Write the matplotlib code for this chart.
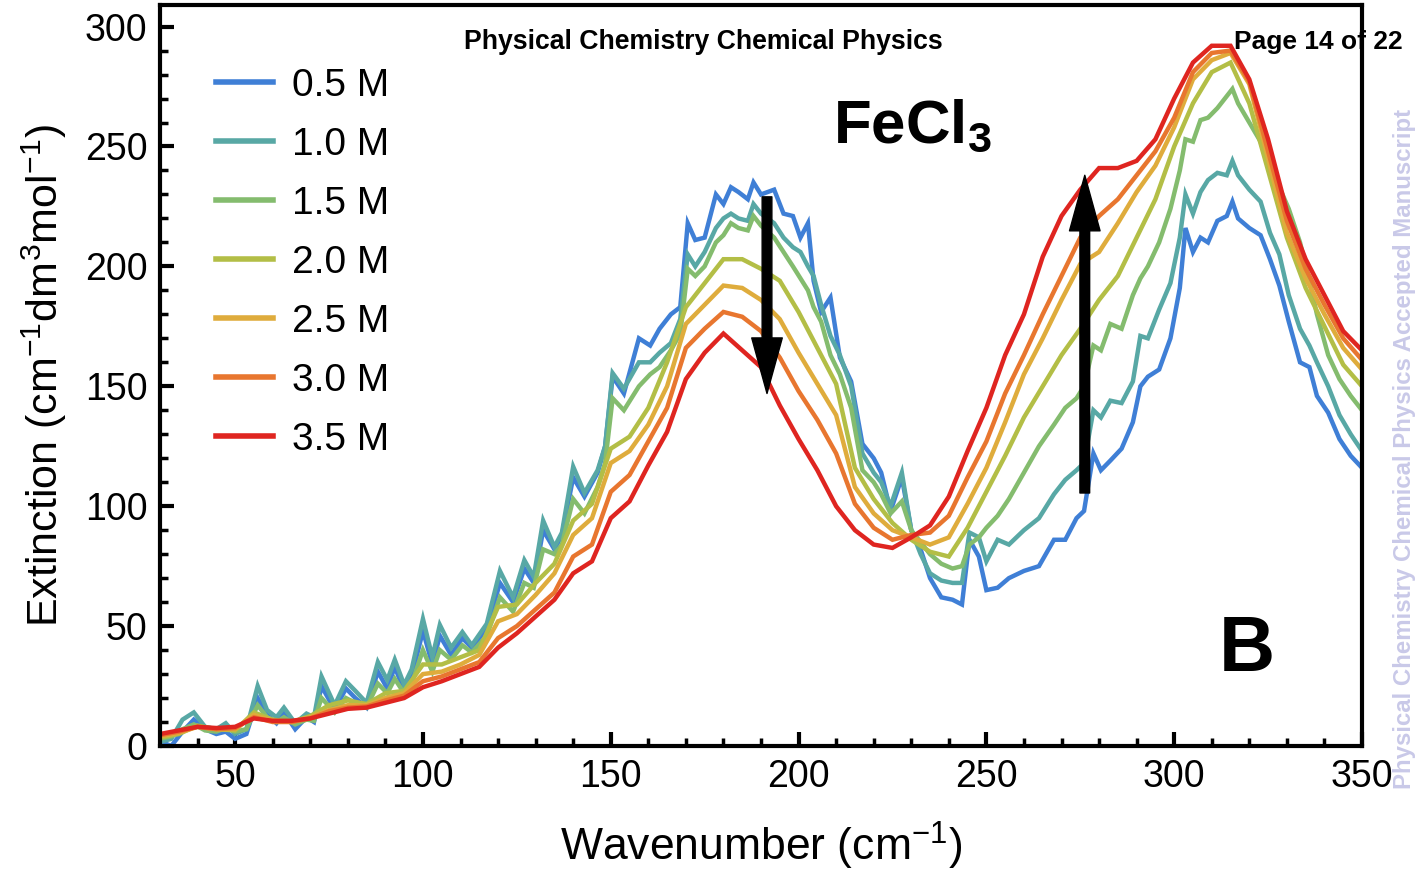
import numpy as np
import matplotlib
matplotlib.use("Agg")
import matplotlib.pyplot as plt
from matplotlib.ticker import MultipleLocator

plt.rcParams['font.family'] = ['Liberation Sans', 'DejaVu Sans']
plt.rcParams['mathtext.fontset'] = 'custom'
plt.rcParams['mathtext.rm'] = 'Liberation Sans'
plt.rcParams['mathtext.it'] = 'Liberation Sans'
plt.rcParams['mathtext.bf'] = 'Liberation Sans:bold'

# wavenumber grid for the noisy low-concentration spectra
x_fine = [30, 33, 36, 39, 42, 45, 47.5, 50, 53, 56,
          58.5, 61, 63, 66, 69, 71, 73, 76.5, 79.5, 82,
          85, 88, 90.5, 92.5, 95, 97, 100, 102.5, 104.5, 107.5,
          110.5, 113, 117, 120.5, 124, 127, 129.5, 132, 135, 137,
          140, 143, 146.5, 148.5, 150.5, 153.5, 157.5, 160.5, 163, 166,
          168.5, 170.5, 172.5, 175, 178, 180, 182, 184, 186.5, 188,
          190, 193.5, 196, 198.5, 200.5, 202.5, 204, 206, 208.5, 211,
          214, 217, 220, 222, 224.5, 227.5, 230, 232.5, 235, 238,
          241, 243.5, 245.5, 248, 250, 253, 256, 260, 264, 268,
          271, 274, 276, 278.5, 280.5, 283, 286, 289, 291, 293,
          296, 299, 301.5, 303, 305, 307, 309, 311.5, 314, 315.5,
          317, 320, 323, 325.5, 328, 330.5, 333.5, 336, 338, 341,
          344, 347, 350]

m05 = [2, 0, 6, 11, 7, 5, 6, 3, 5, 20,
       13, 9.5, 14, 7, 12, 10, 25, 15, 24, 20,
       16, 31, 24, 33, 23, 29, 48, 34, 46, 38,
       45, 41, 49, 68, 60, 74, 68, 90, 82, 88,
       112, 104, 114, 125, 154, 147, 170, 167, 174, 180,
       183, 218, 211, 212, 230, 226, 233, 231, 228, 235,
       230, 232, 222, 221, 212, 218, 194, 181, 187, 162,
       152, 126, 120, 114, 98, 112, 90, 82, 70, 62,
       61, 59, 86, 79, 65, 66, 70, 73, 75, 86,
       86, 95, 98, 122, 115, 119, 124, 135, 150, 154,
       157, 170, 191, 216, 206, 212, 210, 219, 221, 227,
       220, 216, 213, 203, 192, 177, 160, 158, 146, 139,
       128, 121, 116]

m10 = [1.7, 3, 11, 14, 8, 7, 9.5, 5, 7, 25,
       15, 12, 16, 9.5, 13.5, 12, 29, 17, 27, 23,
       18, 35, 27.5, 36, 25.5, 32, 53, 37, 50.5, 41,
       47.5, 42, 51, 73, 62, 77.5, 70.5, 94, 83, 89,
       116.5, 105.5, 115, 125, 155.5, 149, 160, 160, 164, 168,
       178, 205, 200, 206, 216, 220, 222, 220, 219, 226,
       222, 218, 212, 208, 206, 200, 196, 184, 171, 163,
       150, 122, 114, 110, 100, 114, 90, 80, 72, 69,
       68, 68, 89, 87, 77, 86, 84, 90, 95, 105,
       111, 115, 118, 140, 137, 144, 143, 152, 171, 170,
       182, 193, 212, 230, 222, 231, 236, 239, 238, 244,
       238, 232, 227, 214, 205, 188, 174, 167, 160, 150,
       138, 130, 123]

m15 = [3, 4, 7, 9, 6.5, 6, 7.5, 6, 7, 17,
       12, 10, 12, 9, 11, 10.5, 20, 14, 20, 18,
       16, 26, 22, 28, 22, 26, 40, 31, 40, 36,
       42, 39, 46, 62, 56, 68, 66, 82, 80, 84,
       103, 97, 108, 118, 145, 140, 150, 155, 158, 165,
       172, 199, 196, 200, 210, 213, 218, 216, 215, 221,
       217, 212, 206, 200, 195, 190, 183, 177, 163, 155,
       141, 115, 110, 105, 97, 102, 90, 85, 80, 76,
       74, 75, 84, 87, 91, 96, 103, 114, 125, 134,
       141, 145, 150, 167, 165, 176, 174, 188, 195, 200,
       210, 224, 240, 253, 252, 261, 262, 266, 271, 274,
       268, 260, 252, 240, 233, 224, 210, 194, 180, 163,
       153, 146, 140]

# coarser grid for the smoother high-concentration spectra
x_coarse = [30, 35, 40, 45, 50, 55, 60, 65, 70, 75,
            80, 85, 90, 95, 100, 105, 110, 115, 120, 125,
            130, 135, 140, 145, 150, 155, 160, 165, 170, 175,
            180, 185, 190, 195, 200, 205, 210, 215, 220, 225,
            230, 235, 240, 245, 250, 255, 260, 265, 270, 275,
            280, 285, 290, 295, 300, 305, 310, 315, 320, 325,
            330, 335, 340, 345, 350]

m20 = [3.5, 5, 8.5, 7, 6.5, 14, 11, 10, 12.5, 17,
       19, 17.5, 22, 23, 34, 34, 37, 40, 58, 59,
       68, 76, 94, 101, 124, 129, 141, 160, 183, 193,
       203, 203, 199, 194, 181, 166, 151, 116, 103, 93,
       86, 81, 79, 91, 106, 121, 137, 150, 163, 174,
       186, 196, 212, 228, 250, 268, 281, 285, 268, 240,
       212, 191, 175, 159, 150]

m25 = [4, 5.5, 8, 7, 7, 13, 10.5, 10, 12, 15,
       17, 17, 20, 22, 30, 31, 34, 38, 52, 55,
       63, 72, 88, 95, 118, 123, 134, 150, 176, 184,
       192, 191, 186, 178, 164, 151, 138, 108, 97, 90,
       87, 84, 87, 101, 116, 135, 155, 170, 186, 201,
       206, 218, 231, 242, 258, 278, 286, 289, 276, 245,
       214, 195, 180, 166, 157]

m30 = [4.5, 6, 8, 7, 7.5, 12, 10, 10, 11.5, 14.5,
       16, 16.5, 19, 21, 27, 29, 32, 35, 45, 50,
       57, 64, 79, 84, 106, 113, 127, 141, 166, 174,
       181, 179, 173, 162, 148, 136, 122, 101, 91, 86,
       88, 89, 96, 112, 127, 147, 163, 180, 196, 212,
       221, 228, 238, 248, 262, 281, 289, 290, 277, 248,
       219, 199, 184, 170, 161]

m35 = [5, 6.5, 8, 7.5, 8, 11.5, 10.5, 10.5, 11.5, 13.5,
       15.5, 16, 18, 20, 24.5, 27, 30, 33, 41, 47,
       54, 61, 72, 77, 95, 102, 117, 131, 153, 164,
       172, 165, 158, 142, 128, 115, 100, 90, 84, 82.6,
       87, 92, 104, 123, 141, 163, 180, 204, 221, 232,
       241, 241, 244, 253, 270, 285, 292, 292, 278, 253,
       223, 203, 188, 173, 165]

labels = ['0.5 M', '1.0 M', '1.5 M', '2.0 M', '2.5 M', '3.0 M', '3.5 M']
colors = ['#3f7fd6', '#58a8a5', '#84bc6e', '#b3be46', '#dfac3c', '#e8762f', '#df2520']

series = [(x_fine, m05), (x_fine, m10), (x_fine, m15), (x_coarse, m20),
          (x_coarse, m25), (x_coarse, m30), (x_coarse, m35)]

fig = plt.figure(figsize=(14.2, 8.72), dpi=100)
ax = fig.add_axes([160 / 1420, 1 - 746 / 872, 1202 / 1420, 741 / 872])

for (xs, ys), lab, c in zip(series, labels, colors):
    ax.plot(xs, ys, color=c, lw=3.2, label=lab, solid_joinstyle='miter')

ax.set_xlim(30, 350)
ax.set_ylim(0, 309)
ax.xaxis.set_major_locator(MultipleLocator(50))
ax.xaxis.set_minor_locator(MultipleLocator(10))
ax.yaxis.set_major_locator(MultipleLocator(50))
ax.yaxis.set_minor_locator(MultipleLocator(10))
ax.tick_params(which='major', direction='in', length=10, width=3, labelsize=27,
               top=False, right=False, pad=9)
ax.tick_params(which='minor', direction='in', length=6, width=2.5,
               top=False, right=False)
for s in ax.spines.values():
    s.set_linewidth(3)

ax.set_xlabel(r'Wavenumber (cm$^{-1}$)', fontsize=32)
ax.set_ylabel(r'Extinction (cm$^{-1}$dm$^{3}$mol$^{-1}$)', fontsize=31)
ax.xaxis.set_label_coords(0.5, -0.1)
ax.yaxis.set_label_coords(-0.076, 0.5)

leg = ax.legend(loc='upper left', bbox_to_anchor=(0.047, 0.915), frameon=False,
                fontsize=28, handlelength=1.45, handletextpad=0.5,
                labelspacing=0.59, borderpad=0, borderaxespad=0)
for h in leg.get_lines():
    h.set_linewidth(4)

# concentration trend arrows
ax.annotate('', xy=(191.6, 147), xytext=(191.6, 229),
            arrowprops=dict(arrowstyle='simple,head_length=40,head_width=22,tail_width=7',
                            mutation_scale=1, color='black', shrinkA=0, shrinkB=0))
ax.annotate('', xy=(276.2, 238), xytext=(276.2, 105.5),
            arrowprops=dict(arrowstyle='simple,head_length=40,head_width=22,tail_width=7',
                            mutation_scale=1, color='black', shrinkA=0, shrinkB=0))

ax.text(209.2, 251.6, r'$\mathbf{FeCl_3}$', fontsize=44.5, va='baseline', ha='left')
ax.text(319.4, 40, 'B', fontsize=56, fontweight='bold', ha='center', va='center')

fig.text(703 / 1420, 1 - 42 / 872, 'Physical Chemistry Chemical Physics', fontsize=19.2,
         fontweight='bold', ha='center', va='center')
fig.text(1318 / 1420, 1 - 42 / 872, 'Page 14 of 22', fontsize=19,
         fontweight='bold', ha='center', va='center')
fig.text(1405 / 1420, 1 - 449 / 872,
         'Physical Chemistry Chemical Physics Accepted Manuscript',
         fontsize=17.3, fontweight='bold', color='#c9c9e8', rotation=90,
         ha='center', va='center')

fig.savefig('out.png', dpi=100)
